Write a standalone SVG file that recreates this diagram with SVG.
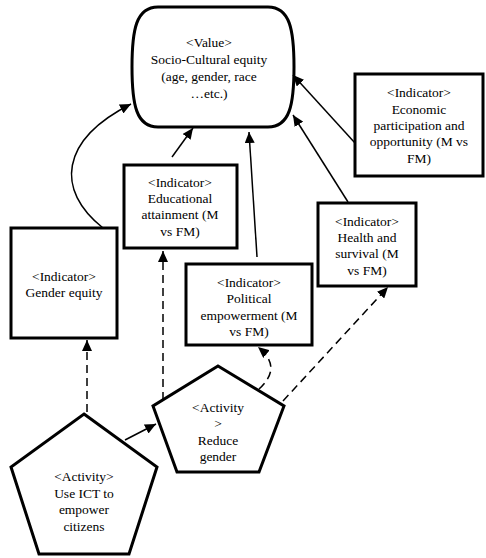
<svg xmlns="http://www.w3.org/2000/svg" width="486" height="558" viewBox="0 0 486 558" font-family="Liberation Serif, Times New Roman, serif">
<style>
.node{fill:#fff;stroke:#000;stroke-width:3;stroke-linejoin:miter}
.t{font-size:13.5px;fill:#000;text-anchor:middle}
.c{fill:none;stroke:#000;stroke-width:1.5}
.d{stroke-dasharray:8,5}
</style>
<defs>
<marker id="ah" markerUnits="userSpaceOnUse" markerWidth="12" markerHeight="10" refX="11" refY="5" orient="auto">
<path d="M0,0 L11,5 L0,10 Z" fill="#000"/>
</marker>
</defs>
<rect width="486" height="558" fill="#fff"/>
<g id="value">
<path class="node" d="M158,7 L268,7 C290,7 294,30 294,67 C294,104 290,127 268,127 L158,127 C136,127 132,104 132,67 C132,30 136,7 158,7 Z"/>
<text class="t" x="209" y="47">&lt;Value&gt;</text>
<text class="t" x="209" y="64">Socio-Cultural equity</text>
<text class="t" x="209" y="81">(age, gender, race</text>
<text class="t" x="209" y="98">…etc.)</text>
</g>
<g id="economic">
<rect class="node" x="355" y="74" width="128" height="102"/>
<text class="t" x="419" y="97">&lt;Indicator&gt;</text>
<text class="t" x="419" y="114">Economic</text>
<text class="t" x="419" y="130">participation and</text>
<text class="t" x="419" y="146">opportunity (M vs</text>
<text class="t" x="419" y="163">FM)</text>
</g>
<g id="educational">
<rect class="node" x="124" y="165" width="113" height="83"/>
<text class="t" x="180" y="187">&lt;Indicator&gt;</text>
<text class="t" x="180" y="203">Educational</text>
<text class="t" x="180" y="219">attainment (M</text>
<text class="t" x="180" y="236">vs FM)</text>
</g>
<g id="health">
<rect class="node" x="318" y="203" width="98" height="83"/>
<text class="t" x="367" y="226">&lt;Indicator&gt;</text>
<text class="t" x="367" y="242">Health and</text>
<text class="t" x="367" y="258">survival (M</text>
<text class="t" x="367" y="275">vs FM)</text>
</g>
<g id="gender-equity">
<rect class="node" x="11" y="228" width="106" height="110"/>
<text class="t" x="64" y="281">&lt;Indicator&gt;</text>
<text class="t" x="64" y="297">Gender equity</text>
</g>
<g id="political">
<rect class="node" x="186" y="264" width="126" height="81"/>
<text class="t" x="249" y="287">&lt;Indicator&gt;</text>
<text class="t" x="249" y="303">Political</text>
<text class="t" x="249" y="320">empowerment (M</text>
<text class="t" x="249" y="336">vs FM)</text>
</g>
<g id="reduce-gender">
<polygon class="node" points="218,366 284,406 259,472 177,472 153,406"/>
<text class="t" x="218" y="412">&lt;Activity</text>
<text class="t" x="218" y="428">&gt;</text>
<text class="t" x="218" y="445">Reduce</text>
<text class="t" x="218" y="461">gender</text>
</g>
<g id="use-ict">
<polygon class="node" points="84,414 157,467 129,554 39,554 11,467"/>
<text class="t" x="84" y="481">&lt;Activity&gt;</text>
<text class="t" x="84" y="498">Use ICT to</text>
<text class="t" x="84" y="514">empower</text>
<text class="t" x="84" y="531">citizens</text>
</g>
<g id="connectors">
<path class="c" d="M103,228 C55,190 60,140 131,104" marker-end="url(#ah)"/>
<path class="c" d="M172,157 L193,128" marker-end="url(#ah)"/>
<path class="c" d="M257,257 L249,132" marker-end="url(#ah)"/>
<path class="c" d="M348,202 L293,115" marker-end="url(#ah)"/>
<path class="c" d="M355,143 L293,75" marker-end="url(#ah)"/>
<path class="c d" d="M87,412 L87,340" marker-end="url(#ah)"/>
<path class="c d" d="M163,400 L163,251" marker-end="url(#ah)"/>
<path class="c" d="M125,440 L156,424" marker-end="url(#ah)"/>
<path class="c d" d="M259,389 C274,375 276,362 258,347" marker-end="url(#ah)"/>
<path class="c d" d="M283,401 L388,287" marker-end="url(#ah)"/>
</g>
</svg>
